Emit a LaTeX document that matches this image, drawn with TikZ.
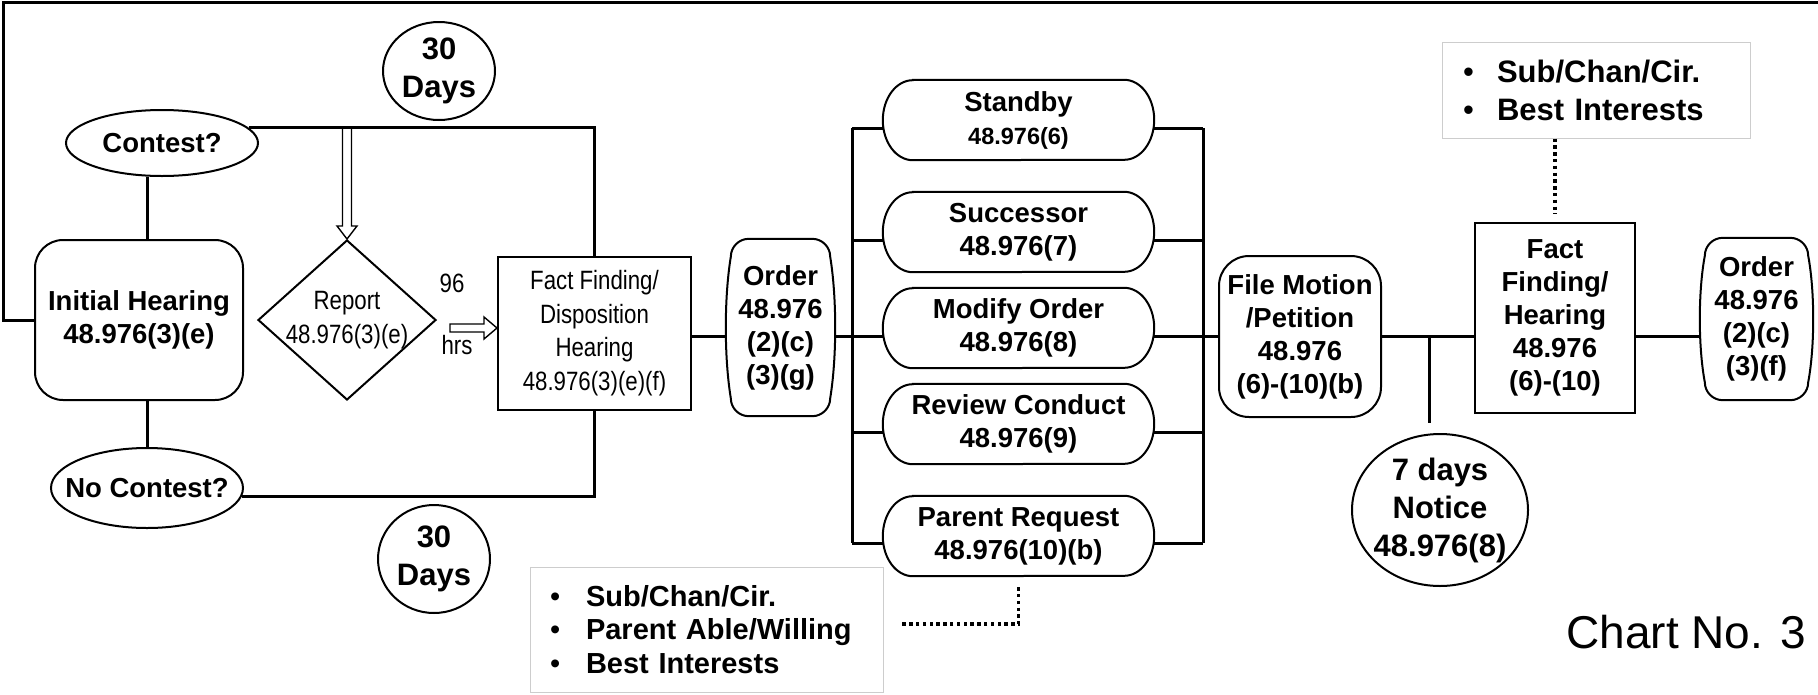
\documentclass[tikz,border=0pt]{standalone}
\usepackage{fontspec}
\setmainfont{Liberation Sans}
\newfontfamily\narrowfont{Liberation Sans}[FakeStretch=0.84]
\usetikzlibrary{shapes.geometric,calc}
\definecolor{boxgray}{RGB}{205,205,205}
\newcommand\blt[1]{\makebox[#1][l]{\mdseries\textbullet}}
\newcommand\drawbarrel[3]{%
  \draw[shp] ($(#1.north west)+(#2+#3,0)$) -- ($(#1.north east)+(-#2-#3,0)$)
    .. controls ($(#1.north east)+(-#2-0.45*#3,0)$) and ($(#1.north east)+(-#2,0.45*#3)$) .. ($(#1.north east)+(-#2,#3)$)
    .. controls ($($(#1.north east)!0.33!(#1.south east)$)+(#2/3,0)$) and ($($(#1.north east)!0.67!(#1.south east)$)+(#2/3,0)$) .. ($(#1.south east)+(-#2,-#3)$)
    .. controls ($(#1.south east)+(-#2,-0.45*#3)$) and ($(#1.south east)+(-#2-0.45*#3,0)$) .. ($(#1.south east)+(-#2-#3,0)$)
    -- ($(#1.south west)+(#2+#3,0)$)
    .. controls ($(#1.south west)+(#2+0.45*#3,0)$) and ($(#1.south west)+(#2,-0.45*#3)$) .. ($(#1.south west)+(#2,-#3)$)
    .. controls ($($(#1.south west)!0.33!(#1.north west)$)+(-#2/3,0)$) and ($($(#1.south west)!0.67!(#1.north west)$)+(-#2/3,0)$) .. ($(#1.north west)+(#2,#3)$)
    .. controls ($(#1.north west)+(#2,0.45*#3)$) and ($(#1.north west)+(#2+0.45*#3,0)$) .. cycle;}
% stadium with elliptical ends: #1 node, #2 end width (pt), #3 half height (pt)
\newcommand\drawpill[3]{%
  \draw[shp] ($(#1.north west)+(#2,0)$) -- ($(#1.north east)+(-#2,0)$)
    arc[start angle=90, end angle=-90, x radius=#2pt, y radius=#3pt]
    -- ($(#1.south west)+(#2,0)$)
    arc[start angle=270, end angle=90, x radius=#2pt, y radius=#3pt] -- cycle;}
\begin{document}
\begin{tikzpicture}[x=1pt,y=-1pt,
  conn/.style={line width=3pt},
  shp/.style={draw, line width=2pt},
  txt/.style={font=\bfseries\fontsize{27.5}{33}\selectfont, align=center},
  big/.style={font=\bfseries\fontsize{31}{38}\selectfont, align=center},
  nar/.style={font=\narrowfont\fontsize{26.5}{33.5}\selectfont, align=center},
  pill/.style={minimum width=271, minimum height=80, inner sep=2pt, txt},
  hol/.style={draw, line width=1.4pt, fill=white, line join=miter},
  dots/.style={line width=3.3pt, dash pattern=on 3.4pt off 3.4pt},
  infobox/.style={draw=boxgray, line width=1pt, align=left}]
\useasboundingbox (0,0) rectangle (1818,694);
\fill[white] (0,0) rectangle (1818,694);

% left part
\node[shp, rounded corners=28, minimum width=208, minimum height=160, txt] (ih) at (139,320) {Initial Hearing\\48.976(3)(e)};
\node[shp, ellipse, minimum width=192, minimum height=66, inner sep=0pt, txt] (ct) at (162,143) {Contest?};
\node[shp, ellipse, minimum width=192, minimum height=80, inner xsep=-20pt, inner ysep=0pt, txt] (nc) at (147,488) {No Contest?};
\node[shp, ellipse, minimum width=112, minimum height=98, inner sep=-8pt, big] (d1) at (439,71) {30\\Days};
\node[shp, ellipse, minimum width=112, minimum height=108, inner sep=-8pt, big] (d2) at (434,559) {30\\Days};
\node[shp, diamond, minimum width=178, minimum height=160, inner sep=-25pt, nar] (rep) at (347,320) {Report\\48.976(3)(e)};
\node[font=\narrowfont\fontsize{26.5}{30}\selectfont] (n96) at (452,283) {96};
\node[font=\narrowfont\fontsize{26.5}{30}\selectfont] (hrs) at (457,345) {hrs};
\node[shp, minimum width=193, minimum height=153, inner sep=2pt, nar] (ff) at (594.5,333) {Fact Finding/\\Disposition\\Hearing\\48.976(3)(e)(f)};
\node[minimum width=109, minimum height=177, inner sep=0pt, txt] (o1) at (780.5,327.5) {Order\\48.976\\(2)(c)\\(3)(g)};
\drawbarrel{o1}{5}{18}

\coordinate (tl) at (3,2);
\coordinate (tr) at (1818,2);
\coordinate (a96) at (450,328);
\coordinate (mainy) at (0,336);

\draw[conn] (ih.west) -- (ih.west -| tl) -- (tl) -- (tr);
\draw[conn] (ct.south -| nc.north) -- (ih.north -| nc.north);
\draw[conn] (ih.south -| nc.north) -- (nc.north);
\draw[conn] (ct.10) -- (ct.10 -| ff.north) -- (ff.north);
\draw[conn] (nc.-5) -- (nc.-5 -| ff.south) -- (ff.south);
\coordinate (ca) at (rep.north |- ct.10);
\coordinate (tip) at (a96 -| ff.west);
% hollow arrow from the Contest line down to the report
\draw[hol] ($(ca)+(-4.5,1.5)$) -- ($(rep.north)+(-4.5,-13)$) -- ($(rep.north)+(-10,-13)$) -- (rep.north)
  -- ($(rep.north)+(10,-13)$) -- ($(rep.north)+(4.5,-13)$) -- ($(ca)+(4.5,1.5)$);
% hollow 96 hrs arrow
\draw[hol] ($(a96)+(0,-4)$) -- ($(tip)+(-13,-4)$) -- ($(tip)+(-13,-11)$) -- (tip)
  -- ($(tip)+(-13,11)$) -- ($(tip)+(-13,4)$) -- ($(a96)+(0,4)$) -- cycle;
\draw[conn] (ff.east |- mainy) -- (o1.west |- mainy);

% middle part
\node[pill] (p1) at (1018.5,120) {Standby\\{\fontsize{23.5}{28}\selectfont 48.976(6)}};
\node[pill] (p2) at (1018.5,232) {Successor\\48.976(7)};
\node[pill] (p3) at (1018.5,328) {Modify Order\\48.976(8)};
\node[pill] (p4) at (1018.5,424) {Review Conduct\\48.976(9)};
\node[pill] (p5) at (1018.5,536) {Parent Request\\48.976(10)(b)};
\foreach \i in {1,...,5}{\drawpill{p\i}{30}{40}}

\coordinate (l1) at (852,128); \coordinate (r1) at (1203,128);
\coordinate (l2) at (852,240); \coordinate (r2) at (1203,240);
\coordinate (l3) at (852,336); \coordinate (r3) at (1203,336);
\coordinate (l4) at (852,432); \coordinate (r4) at (1203,432);
\coordinate (l5) at (852,543); \coordinate (r5) at (1203,543);
\draw[conn] (l1) -- (l5);
\draw[conn] (r1) -- (r5);
\foreach \i in {1,...,5}{
  \draw[conn] (l\i) -- (l\i -| p\i.west);
  \draw[conn] (p\i.east |- r\i) -- (r\i);
}
\draw[conn] (o1.east |- l3) -- (l3);

\node[infobox, minimum width=353, minimum height=125, text width=313, inner xsep=20pt, font=\bfseries\fontsize{29}{33.5}\selectfont] (bb) at (706.5,629.5)
  {\blt{36pt}Sub/Chan/Cir.\\\blt{36pt}Parent Able/Willing\\\blt{36pt}Best Interests};
\draw[dots] ($(p5.south)+(0,11)$) |- ($(bb.east)+(16,-5.5)$);

% right part
\node[shp, rounded corners=30, minimum width=162, minimum height=161, inner sep=2pt, txt] (fm) at (1300,336.5) {File Motion\\/Petition\\48.976\\(6)-(10)(b)};
\node[shp, minimum width=160, minimum height=190, inner sep=2pt, txt] (f2) at (1555,318) {Fact\\Finding/\\Hearing\\48.976\\(6)-(10)};
\node[minimum width=113, minimum height=162, inner sep=0pt, txt] (o2) at (1756.5,319) {Order\\48.976\\(2)(c)\\(3)(f)};
\drawbarrel{o2}{5}{18}
\node[shp, ellipse, minimum width=176, minimum height=152, inner sep=-14pt, big] (sd) at (1440,510) {7 days\\Notice\\48.976(8)};

\coordinate (jt) at (1429,336);
\coordinate (jb) at (1429,423);
\draw[conn] (r3) -- (fm.west |- r3);
\draw[conn] (fm.east |- r3) -- (f2.west |- r3);
\draw[conn] (f2.east |- r3) -- (o2.west |- r3);
\draw[conn] (jt) -- (jb);

\node[infobox, minimum width=308, minimum height=96, text width=266, inner xsep=21pt, font=\bfseries\fontsize{31}{38}\selectfont] (tb) at (1596,90)
  {\blt{34pt}Sub/Chan/Cir.\\\blt{34pt}Best Interests};
\draw[dots] (tb.south -| f2.north) -- ($(f2.north)+(0,-8)$);

\node[font=\fontsize{46}{50}\selectfont, anchor=base east, inner sep=0pt] (chart) at (1806,648) {Chart No. 3};
\end{tikzpicture}
\end{document}
